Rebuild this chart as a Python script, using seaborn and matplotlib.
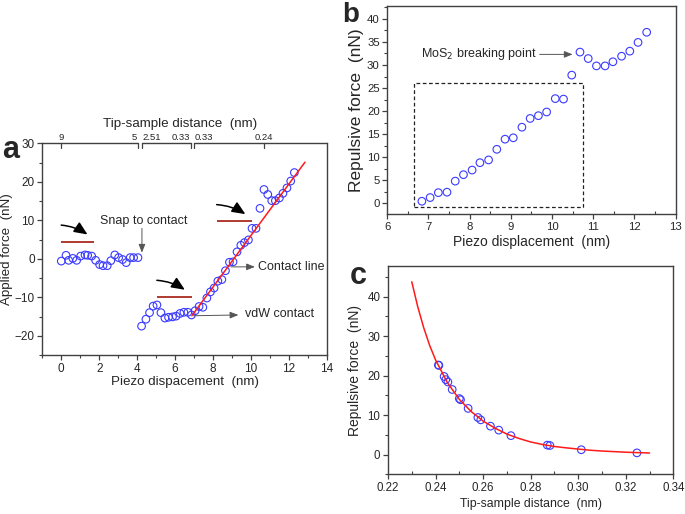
import numpy as np
import matplotlib
matplotlib.use("Agg")
import matplotlib.pyplot as plt
from matplotlib.patches import Rectangle
from matplotlib.ticker import MultipleLocator, FormatStrFormatter
import seaborn as sns

# ---- panel a: force vs piezo displacement ----
snap_x = [0.0, 0.25, 0.39, 0.61, 0.81, 1.02, 1.25, 1.39, 1.6, 1.81, 2.02,
          2.2, 2.42, 2.61, 2.82, 3.02, 3.23, 3.42, 3.63, 3.81, 4.04]
snap_y = [-0.6, 0.9, -0.4, 0.1, -0.4, 0.7, 1.0, 0.9, 0.7, -0.4, -1.5,
          -1.8, -1.8, -0.5, 1.0, 0.3, -0.2, -1.0, 0.3, 0.3, 0.3]
contact_x = [4.23, 4.46, 4.65, 4.84, 5.04, 5.25, 5.46, 5.65, 5.86, 6.05,
             6.26, 6.46, 6.67, 6.86, 7.05, 7.26, 7.46, 7.67, 7.86, 8.05,
             8.25, 8.46, 8.65, 8.86, 9.05, 9.26, 9.46, 9.65, 9.86, 10.05,
             10.26, 10.47, 10.68, 10.88, 11.09, 11.28, 11.49, 11.68, 11.89,
             12.09, 12.28]
contact_y = [-17.5, -15.7, -14.0, -12.3, -12.0, -14.0, -15.4, -15.2, -15.1,
             -14.9, -14.2, -13.9, -13.9, -14.6, -13.5, -12.4, -12.6, -10.2,
             -8.6, -7.6, -5.8, -5.4, -3.1, -0.9, -0.8, 1.8, 3.5, 4.2, 4.9,
             7.9, 7.9, 13.1, 18.0, 16.7, 15.1, 15.1, 15.8, 17.0, 18.4, 20.2,
             22.4]
fit_a_x = [6.88, 12.84]
fit_a_y = [-14.8, 25.1]
top_ticks = [0.0, 4.04, 4.25, 6.82, 7.0, 10.68]
top_labels = ["9", "5", "2.51", "0.33", "0.33", "0.24"]
top_align = ["center", "right", "left", "right", "left", "center"]
level_x0 = [0.0, 5.04, 8.19]
level_x1 = [1.75, 6.88, 10.07]
level_y = [4.4, -9.95, 9.7]

# ---- panel b: repulsive force vs piezo displacement ----
b_x = [6.84, 7.04, 7.24, 7.45, 7.65, 7.85, 8.06, 8.25, 8.46, 8.66, 8.86,
       9.06, 9.27, 9.47, 9.67, 9.87, 10.08, 10.28, 10.48, 10.68, 10.88,
       11.08, 11.29, 11.48, 11.69, 11.89, 12.09, 12.3]
b_y = [0.43, 1.23, 2.3, 2.4, 4.8, 6.2, 7.2, 8.8, 9.4, 11.7, 13.9, 14.2,
       16.5, 18.4, 19.0, 19.8, 22.7, 22.6, 27.8, 32.8, 31.4, 29.8, 29.8,
       30.7, 31.9, 33.0, 34.9, 37.1]
box_x = [6.65, 10.75]
box_y = [-0.9, 26.0]

# ---- panel c: repulsive force vs tip-sample distance ----
c_x = [0.2412, 0.2414, 0.2436, 0.2443, 0.2452, 0.2470, 0.2500, 0.2505,
       0.2537, 0.2578, 0.2590, 0.2631, 0.2666, 0.2717, 0.2870, 0.2881,
       0.3013, 0.3247]
c_y = [22.7, 22.6, 19.8, 19.0, 18.4, 16.5, 14.2, 13.9, 11.7, 9.4, 8.8,
       7.2, 6.2, 4.8, 2.4, 2.3, 1.23, 0.43]
fit_c_x = [0.230, 0.2325, 0.235, 0.2375, 0.240, 0.245, 0.250, 0.255, 0.260,
           0.265, 0.270, 0.275, 0.280, 0.285, 0.290, 0.295, 0.300, 0.305,
           0.310, 0.315, 0.320, 0.325, 0.330]
fit_c_y = [43.8, 37.5, 32.2, 27.7, 24.0, 18.2, 14.0, 10.9, 8.5, 6.7, 5.2,
           4.1, 3.2, 2.55, 2.05, 1.7, 1.4, 1.1, 0.9, 0.75, 0.6, 0.5, 0.4]

sns.set_style("ticks")
plt.rcParams["font.family"] = ["Liberation Sans", "DejaVu Sans"]

blue = "#3a3aff"
red = "#ff1a1a"
dark_red = "#b03a30"
spine = "#404040"

fig = plt.figure(figsize=(6.85, 5.14), dpi=100)
W, H = 685, 514


def box(l, t, r, b):
    return [l / W, 1 - b / H, (r - l) / W, (b - t) / H]


def style_axis(ax, size):
    for s in ax.spines.values():
        s.set_color(spine)
        s.set_linewidth(1.0)
    ax.tick_params(which="major", direction="out", length=3.5, width=0.9,
                   color=spine, labelsize=size, pad=2)
    ax.tick_params(which="minor", direction="out", length=2, width=0.8,
                   color=spine)


def thin_arrow(ax, xy, xytext):
    ax.annotate("", xy=xy, xytext=xytext,
                arrowprops=dict(arrowstyle="-|>,head_length=0.5,head_width=0.2",
                                color="#555555", lw=0.7, shrinkA=0, shrinkB=0))


# ---------------- panel a ----------------
ax = fig.add_axes(box(42.3, 143.3, 327, 355))
sns.lineplot(x=fit_a_x, y=fit_a_y, ax=ax, color=red, lw=1.1, zorder=3)
sns.scatterplot(x=snap_x + contact_x, y=snap_y + contact_y, ax=ax, marker="o",
                s=30, color=blue, facecolor="none", edgecolor=blue,
                linewidth=0.8, zorder=2)
ax.set_xlim(-1, 14)
ax.set_ylim(-25, 30)
ax.xaxis.set_major_locator(MultipleLocator(2))
ax.xaxis.set_minor_locator(MultipleLocator(1))
ax.yaxis.set_major_locator(MultipleLocator(10))
ax.yaxis.set_minor_locator(MultipleLocator(5))
style_axis(ax, 8.5)
ax.set_xlabel("Piezo dispacement  (nm)", fontsize=9.6, labelpad=1)
ax.set_ylabel("Applied force  (nN)", fontsize=9.6, labelpad=1)

# broken top axis for tip-sample distance
ax.spines["top"].set_visible(False)
tr = ax.get_xaxis_transform()
seg_x = [ax.get_xlim()[0]] + top_ticks[1:5] + [ax.get_xlim()[1]]
for i in range(0, len(seg_x), 2):
    ax.plot(seg_x[i:i + 2], [1, 1], transform=tr, color=spine, lw=1.0,
            clip_on=False)
for t, lab, ha in zip(top_ticks, top_labels, top_align):
    ax.plot([t, t], [1, 0.976], transform=tr, color=spine, lw=0.9,
            clip_on=False)
    off = {"center": 0, "right": -0.05, "left": 0.05}[ha]
    ax.text(t + off, 1.006, lab, transform=tr, ha=ha, va="bottom",
            fontsize=6.8)
ax.text(0.484, 1.065, "Tip-sample distance  (nm)", transform=ax.transAxes,
        ha="center", va="bottom", fontsize=9.6)

# levels with curved arrows
ax.hlines(level_y, level_x0, level_x1, color=dark_red, lw=1.4, zorder=1)
for x0, x1, y in zip(level_x0, level_x1, level_y):
    ax.annotate("", xy=(x1 - 0.25, y + 1.5), xytext=(x0 - 0.15, y + 4.4),
                arrowprops=dict(arrowstyle="-|>,head_length=0.8,head_width=0.35",
                                connectionstyle="arc3,rad=-0.15", color="black",
                                lw=1.1, mutation_scale=10))

thin_arrow(ax, (4.25, 1.6), (4.25, 7.9))
ax.text(4.37, 9.9, "Snap to contact", ha="center", va="center", fontsize=9)
thin_arrow(ax, (10.2, -2.1), (8.95, -2.1))
ax.text(10.39, -2.1, "Contact line", ha="left", va="center", fontsize=9)
thin_arrow(ax, (9.33, -14.6), (6.96, -14.8))
ax.text(9.68, -14.4, "vdW contact", ha="left", va="center", fontsize=9)
fig.text(2 / W, 1 - 150 / H, "a", fontsize=22, fontweight="bold",
         va="center", ha="left")

# ---------------- panel b ----------------
ax = fig.add_axes(box(387.3, 6, 675.5, 214.3))
sns.scatterplot(x=b_x, y=b_y, ax=ax, marker="o", s=30, color=blue,
                facecolor="none", edgecolor=blue, linewidth=0.8)
ax.add_patch(Rectangle((box_x[0], box_y[0]), box_x[1] - box_x[0],
                       box_y[1] - box_y[0], fill=False, ls=(0, (3, 2)),
                       lw=0.9, ec="#222222"))
ax.set_xlim(6, 13)
ax.set_ylim(-2.4, 42.8)
ax.xaxis.set_major_locator(MultipleLocator(1))
ax.xaxis.set_minor_locator(MultipleLocator(0.5))
ax.yaxis.set_major_locator(MultipleLocator(5))
ax.yaxis.set_minor_locator(MultipleLocator(2.5))
style_axis(ax, 8.2)
ax.tick_params(axis="x", which="minor", direction="in")
ax.set_xlabel("Piezo displacement  (nm)", fontsize=10, labelpad=2)
ax.set_ylabel("Repulsive force  (nN)", fontsize=12.5, labelpad=2)
thin_arrow(ax, (10.5, 32.3), (9.7, 32.3))
ax.text(9.63, 32.3, "MoS$_2$ breaking point", ha="right", va="center",
        fontsize=9)
fig.text(342 / W, 1 - 2 / H, "b", fontsize=20, fontweight="bold",
         va="top", ha="left")

# ---------------- panel c ----------------
ax = fig.add_axes(box(388, 266, 673.3, 474.3))
sns.lineplot(x=fit_c_x, y=fit_c_y, ax=ax, color=red, lw=1.1, zorder=3)
sns.scatterplot(x=c_x, y=c_y, ax=ax, marker="o", s=30, color=blue,
                facecolor="none", edgecolor=blue, linewidth=0.8, zorder=2)
ax.set_xlim(0.22, 0.34)
ax.set_ylim(-5, 47.8)
ax.xaxis.set_major_locator(MultipleLocator(0.02))
ax.xaxis.set_minor_locator(MultipleLocator(0.01))
ax.yaxis.set_major_locator(MultipleLocator(10))
ax.yaxis.set_minor_locator(MultipleLocator(5))
ax.xaxis.set_major_formatter(FormatStrFormatter("%.2f"))
style_axis(ax, 8.3)
ax.tick_params(axis="x", which="minor", direction="in")
ax.set_xlabel("Tip-sample distance  (nm)", fontsize=8.8, labelpad=3)
ax.set_ylabel("Repulsive force  (nN)", fontsize=10, labelpad=4)
fig.text(350 / W, 1 - 276 / H, "c", fontsize=22, fontweight="bold",
         va="center", ha="left")

fig.savefig("out.png", dpi=100)
